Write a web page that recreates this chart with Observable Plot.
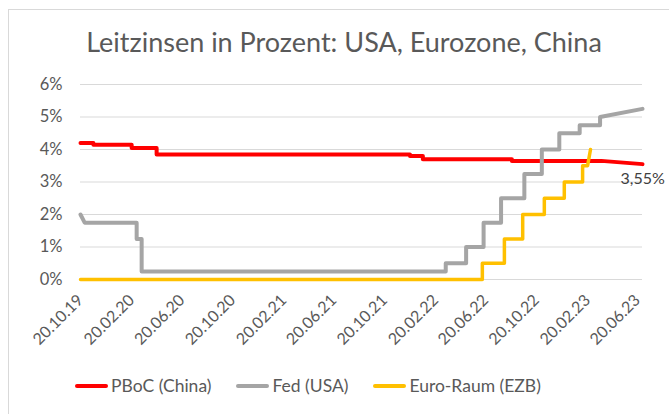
<!DOCTYPE html>
<html>
<head>
<meta charset="utf-8">
<script src="https://cdn.jsdelivr.net/npm/d3@7"></script>
<script src="https://cdn.jsdelivr.net/npm/@observablehq/plot@0.6"></script>
<style>
  html, body { margin: 0; padding: 0; background: #fff; }
  body { width: 669px; height: 414px; position: relative; overflow: hidden; font-family: Lato, "Open Sans", sans-serif; }
  #frame { position: absolute; left: 8px; top: 9px; width: 720px; height: 500px; border: 1px solid #d9d9d9; box-sizing: border-box; }
  #title { position: absolute; left: 0; width: 688px; top: 25px; text-align: center; font-size: 27px; color: #595959; white-space: nowrap; }
  #chart { position: absolute; left: 0; top: 60px; }
  #legend { position: absolute; left: 75px; top: 375px; display: flex; align-items: center; font-size: 17.5px; color: #595959; white-space: nowrap; }
  .item { display: flex; align-items: center; margin-right: 25px; }
  .sw { width: 33px; height: 4px; margin-right: 3px; border-radius: 2px; }
</style>
</head>
<body>
<div id="frame"></div>
<div id="title">Leitzinsen in Prozent: USA, Eurozone, China</div>
<div id="chart"></div>
<div id="legend"></div>
<script>
// ---- data (vertices of the step lines) ----
const seriesNames = ["PBoC (China)", "Fed (USA)", "Euro-Raum (EZB)"];
const seriesColors = ["#ff0000", "#a5a5a5", "#ffc000"];

const pbocDates = ["2019-10-20","2019-11-20","2019-11-20","2020-02-20","2020-02-20","2020-04-20","2020-04-20","2021-12-20","2021-12-20","2022-01-20","2022-01-20","2022-08-22","2022-08-22","2023-03-25","2023-07-02"];
const pbocValues = [4.20,4.20,4.15,4.15,4.05,4.05,3.85,3.85,3.80,3.80,3.70,3.70,3.65,3.65,3.55];

const fedDates = ["2019-10-20","2019-10-30","2020-03-03","2020-03-03","2020-03-15","2020-03-15","2022-03-16","2022-03-16","2022-05-04","2022-05-04","2022-06-15","2022-06-15","2022-07-27","2022-07-27","2022-09-21","2022-09-21","2022-11-02","2022-11-02","2022-12-14","2022-12-14","2023-02-01","2023-02-01","2023-03-22","2023-03-22","2023-07-02"];
const fedValues = [2.00,1.75,1.75,1.25,1.25,0.25,0.25,0.50,0.50,1.00,1.00,1.75,1.75,2.50,2.50,3.25,3.25,4.00,4.00,4.50,4.50,4.75,4.75,5.00,5.25];

const ecbDates = ["2019-10-20","2022-06-12","2022-06-12","2022-08-04","2022-08-04","2022-09-17","2022-09-17","2022-11-08","2022-11-08","2022-12-26","2022-12-26","2023-02-08","2023-02-08","2023-02-20","2023-02-27"];
const ecbValues = [0,0,0.50,0.50,1.25,1.25,2.00,2.00,2.50,2.50,3.00,3.00,3.50,3.50,4.00];

const xTickDates = ["2019-10-20","2020-02-20","2020-06-20","2020-10-20","2021-02-20","2021-06-20","2021-10-20","2022-02-20","2022-06-20","2022-10-20","2023-02-20","2023-06-20"];
const xTickLabels = ["20.10.19","20.02.20","20.06.20","20.10.20","20.02.21","20.06.21","20.10.21","20.02.22","20.06.22","20.10.22","20.02.23","20.06.23"];
const yTicks = [0,1,2,3,4,5,6];
const yTickLabels = ["0%","1%","2%","3%","4%","5%","6%"];
const endLabel = "3,55%";
const xDomain = ["2019-10-20","2023-07-02"];

// ---- build table ----
const parse = s => new Date(s + "T00:00:00Z");
const rows = [];
[[pbocDates,pbocValues],[fedDates,fedValues],[ecbDates,ecbValues]].forEach(([ds,vs],i) => {
  ds.forEach((d,j) => rows.push({series: seriesNames[i], date: parse(d), value: vs[j]}));
});
const pbocLast = rows.filter(r => r.series === seriesNames[0]).slice(-1);
const tickMap = new Map(xTickDates.map((d,i) => [+parse(d), xTickLabels[i]]));
const yMap = new Map(yTicks.map((v,i) => [v, yTickLabels[i]]));

const chart = Plot.plot({
  width: 669,
  height: 300,
  marginLeft: 80,
  marginRight: 27,
  marginTop: 24,
  marginBottom: 81,
  style: {fontFamily: "Lato, 'Open Sans', sans-serif", background: "transparent", overflow: "visible"},
  x: {type: "utc", domain: xDomain.map(parse)},
  y: {domain: [0, 6]},
  color: {domain: seriesNames, range: seriesColors},
  marks: [
    Plot.gridY(yTicks, {stroke: "#d9d9d9", strokeOpacity: 1, strokeWidth: 1}),
    Plot.axisY(yTicks, {tickSize: 0, tickPadding: 18, fontSize: 16.5, fill: "#595959", tickFormat: v => yMap.get(v), label: null}),
    Plot.axisX(xTickDates.map(parse), {tickSize: 0, tickRotate: -45, fontSize: 16, fill: "#595959", tickFormat: d => tickMap.get(+d), label: null, tickPadding: 18, dx: 0}),
    Plot.line(rows.filter(r => r.series === seriesNames[0]), {x: "date", y: "value", stroke: seriesColors[0], strokeWidth: 4, curve: "linear"}),
    Plot.line(rows.filter(r => r.series === seriesNames[1]), {x: "date", y: "value", stroke: seriesColors[1], strokeWidth: 4, curve: "linear"}),
    Plot.line(rows.filter(r => r.series === seriesNames[2]), {x: "date", y: "value", stroke: seriesColors[2], strokeWidth: 3.5, curve: "linear"}),
    Plot.text(pbocLast, {x: "date", y: "value", text: () => endLabel, dx: -22, dy: 15, textAnchor: "start", fontSize: 16, fill: "#404040"})
  ]
});
document.getElementById("chart").appendChild(chart);

// ---- legend ----
const legend = document.getElementById("legend");
seriesNames.forEach((n,i) => {
  const it = document.createElement("div");
  it.className = "item";
  it.innerHTML = `<div class="sw" style="background:${seriesColors[i]}"></div><span>${n}</span>`;
  legend.appendChild(it);
});
</script>
</body>
</html>
